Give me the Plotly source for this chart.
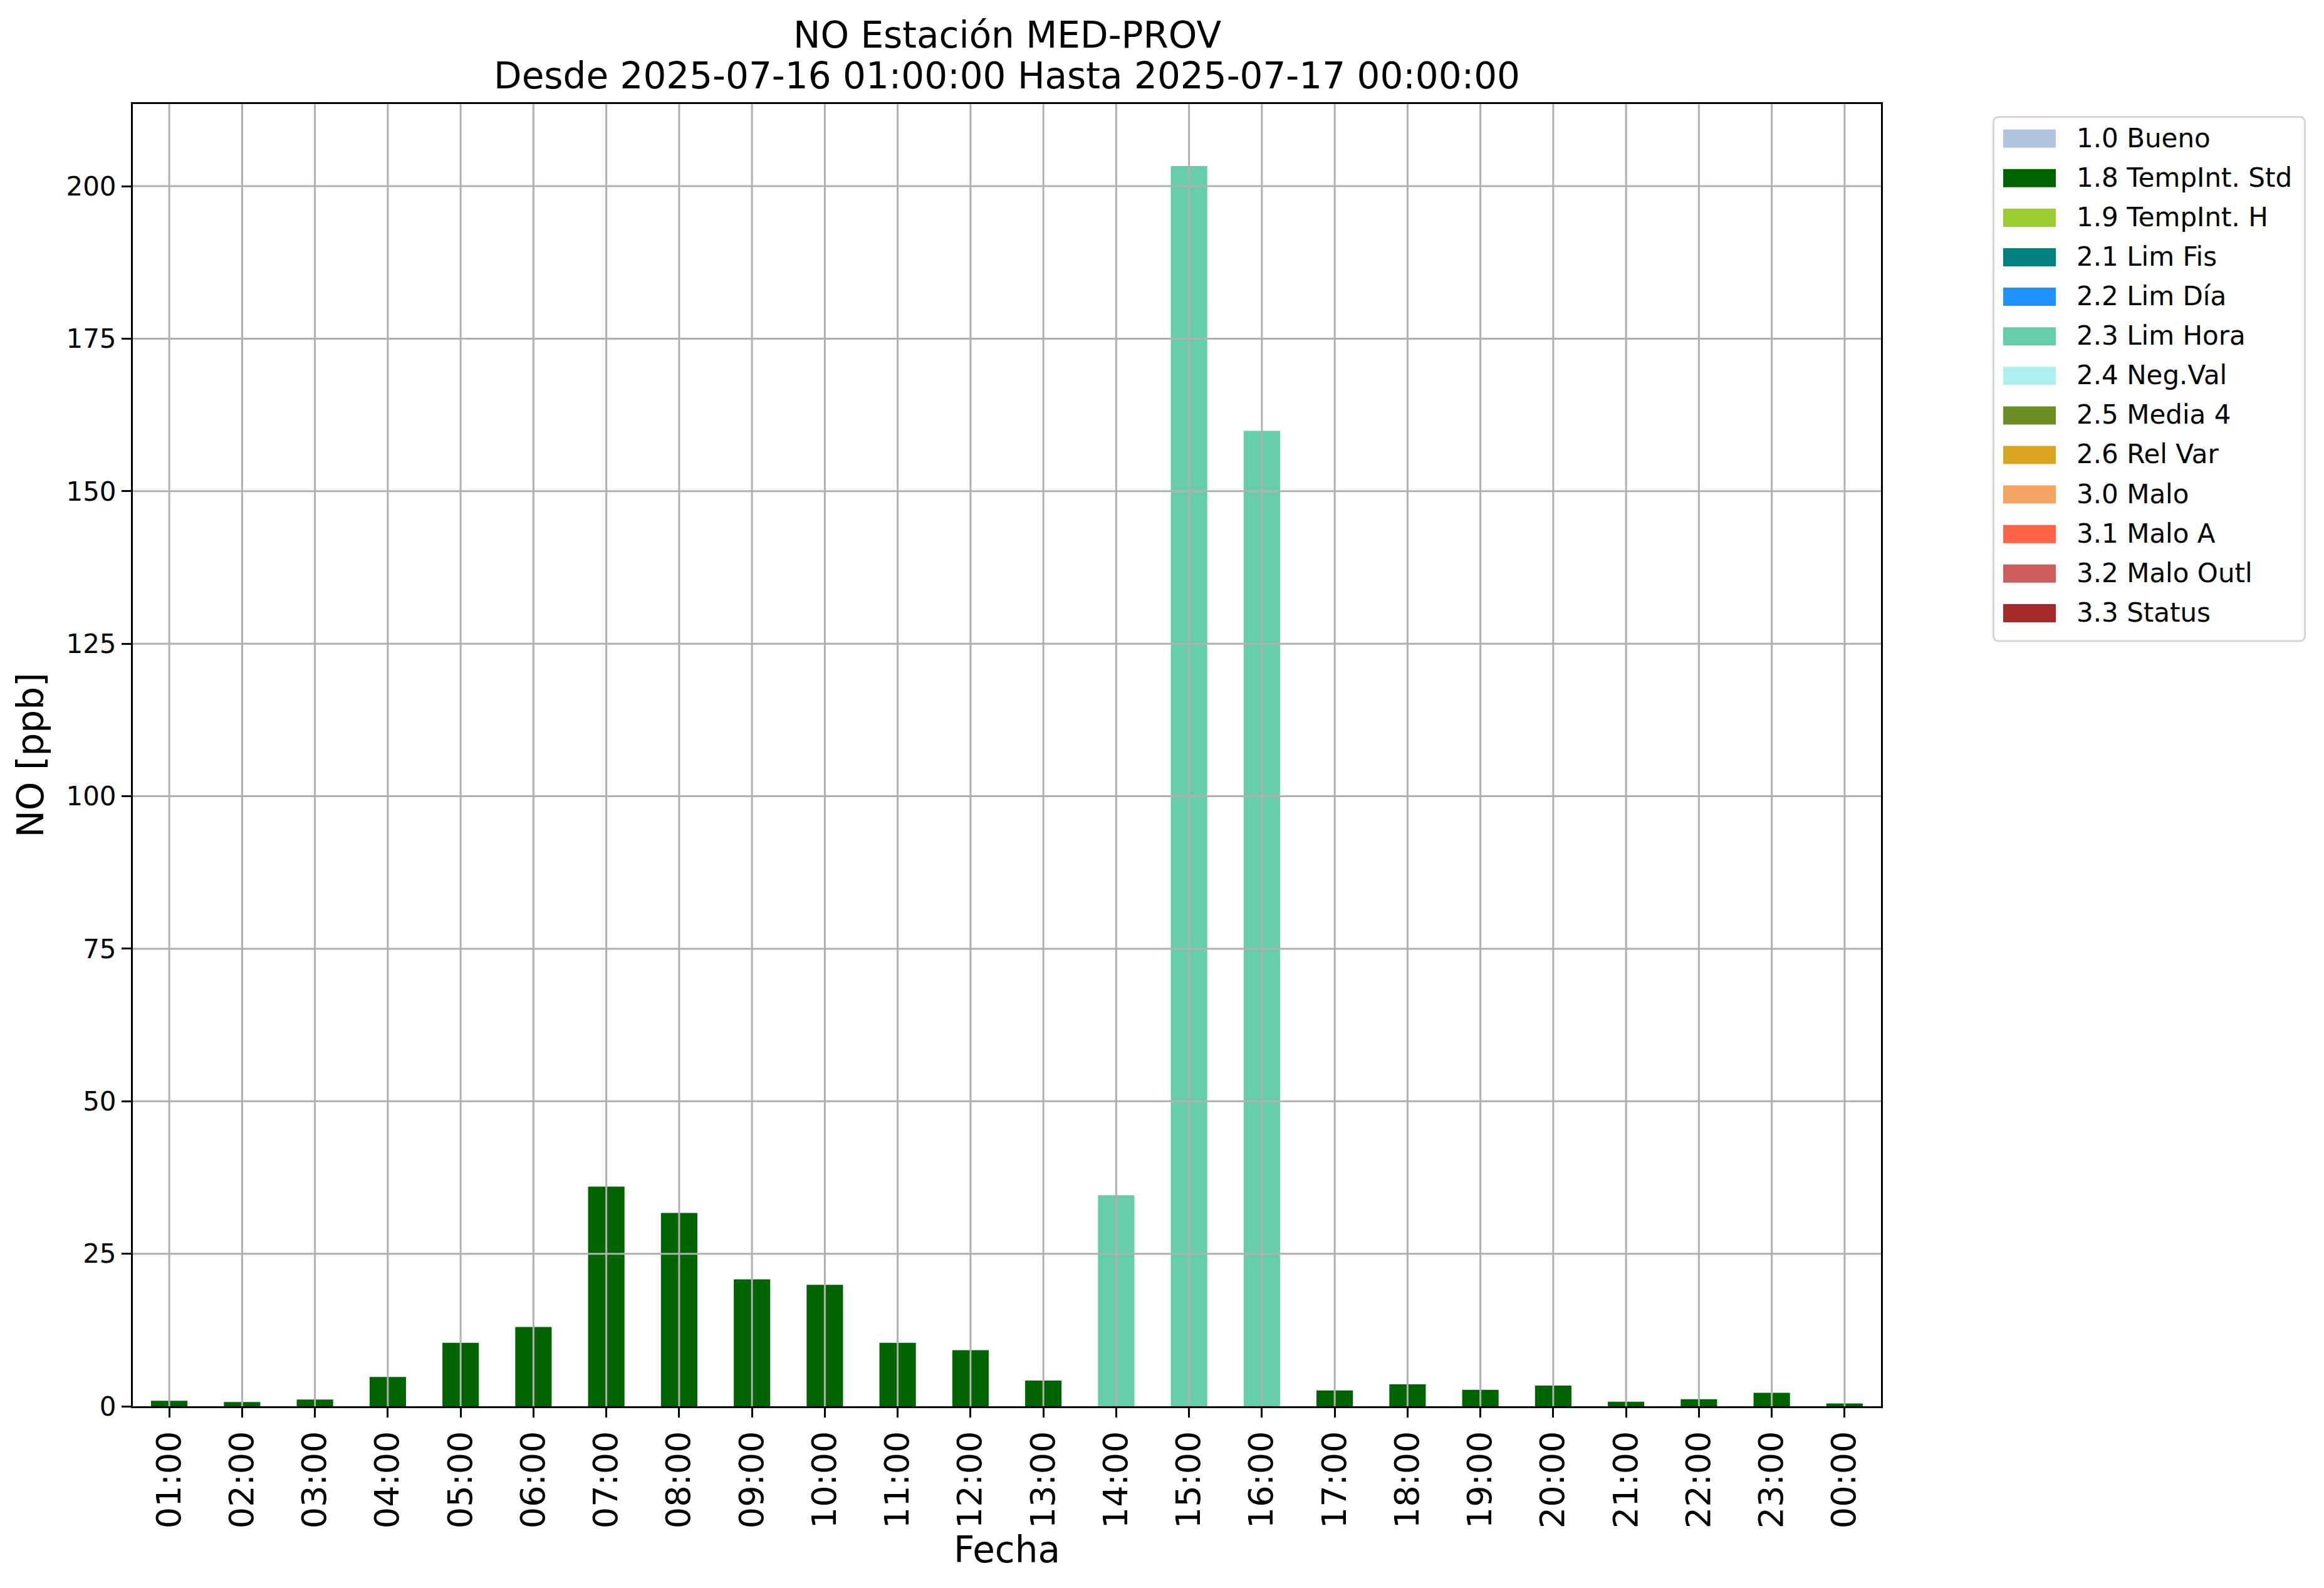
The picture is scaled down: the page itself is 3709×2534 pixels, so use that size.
import plotly.graph_objects as go

# ---------------- data ----------------
hours = ["01:00", "02:00", "03:00", "04:00", "05:00", "06:00", "07:00", "08:00",
         "09:00", "10:00", "11:00", "12:00", "13:00", "14:00", "15:00", "16:00",
         "17:00", "18:00", "19:00", "20:00", "21:00", "22:00", "23:00", "00:00"]
no_values = [0.9, 0.7, 1.1, 4.8, 10.4, 13.0, 36.0, 31.7,
             20.8, 19.9, 10.4, 9.2, 4.2, 34.6, 203.3, 159.9,
             2.6, 3.6, 2.7, 3.4, 0.75, 1.15, 2.2, 0.45]
flags = ["1.8", "1.8", "1.8", "1.8", "1.8", "1.8", "1.8", "1.8",
         "1.8", "1.8", "1.8", "1.8", "1.8", "2.3", "2.3", "2.3",
         "1.8", "1.8", "1.8", "1.8", "1.8", "1.8", "1.8", "1.8"]
flag_codes = ["1.0", "1.8", "1.9", "2.1", "2.2", "2.3", "2.4", "2.5",
              "2.6", "3.0", "3.1", "3.2", "3.3"]
flag_labels = ["1.0 Bueno", "1.8 TempInt. Std", "1.9 TempInt. H", "2.1 Lim Fis",
               "2.2 Lim Día", "2.3 Lim Hora", "2.4 Neg.Val", "2.5 Media 4",
               "2.6 Rel Var", "3.0 Malo", "3.1 Malo A", "3.2 Malo Outl", "3.3 Status"]
flag_colors = ["#B0C4DE", "#006400", "#9ACD32", "#008080", "#1E90FF", "#66CDAA",
               "#AFEEEE", "#6B8E23", "#DAA520", "#F4A460", "#FF6347", "#CD5C5C",
               "#A52A2A"]
y_ticks = [0, 25, 50, 75, 100, 125, 150, 175, 200]
title_lines = ["NO Estación MED-PROV",
               "Desde 2025-07-16 01:00:00 Hasta 2025-07-17 00:00:00"]

# ---------------- layout geometry (page pixels) ----------------
OFF = 8                      # default body margin of the html page
W, H = 3709 - 2 * OFF, 2534 - 2 * OFF
AX_L, AX_R, AX_T, AX_B = 212, 3002, 166, 2244   # axes frame in page pixels
L, T = AX_L - OFF, AX_T - OFF
R, B = W - (AX_R - OFF), H - (AX_B - OFF)
PW, PH = W - L - R, H - T - B
FONT = "DejaVu Sans"


def px_x(X):
    return (X - OFF - L) / PW


def px_y(Y):
    return 1 - (Y - OFF - T) / PH


fig = go.Figure()
for code, label, color in zip(flag_codes, flag_labels, flag_colors):
    ys = [v if f == code else None for v, f in zip(no_values, flags)]
    fig.add_trace(go.Bar(x=hours, y=ys, width=0.5,
                         marker=dict(color=color, line=dict(width=0)),
                         name=label, legendgroup=code))

ymax = max(no_values) * 1.05

shapes = []
# grid drawn above the bars, like the reference
for hcat in hours:
    shapes.append(dict(type="line", xref="x", yref="paper", x0=hcat, x1=hcat, y0=0, y1=1,
                       line=dict(color="#b0b0b0", width=3), layer="above"))
for yt in y_ticks[1:]:
    shapes.append(dict(type="line", xref="paper", yref="y", x0=0, x1=1, y0=yt, y1=yt,
                       line=dict(color="#b0b0b0", width=3), layer="above"))

# ---------------- legend (matplotlib-style box) ----------------
LB_L, LB_R, LB_T, LB_B, RAD = 3181.5, 3678.5, 186.5, 1023, 9
pts = [
    ("M", LB_L + RAD, LB_T),
    ("L", LB_R - RAD, LB_T), ("Q", LB_R, LB_T, LB_R, LB_T + RAD),
    ("L", LB_R, LB_B - RAD), ("Q", LB_R, LB_B, LB_R - RAD, LB_B),
    ("L", LB_L + RAD, LB_B), ("Q", LB_L, LB_B, LB_L, LB_B - RAD),
    ("L", LB_L, LB_T + RAD), ("Q", LB_L, LB_T, LB_L + RAD, LB_T),
]
path = ""
for p in pts:
    cmd, coords = p[0], p[1:]
    xy = []
    for i in range(0, len(coords), 2):
        xy.append(f"{px_x(coords[i]):.6f},{px_y(coords[i + 1]):.6f}")
    path += cmd + " ".join(xy) + " "
path += "Z"
shapes.append(dict(type="path", xref="paper", yref="paper", path=path,
                   fillcolor="white", line=dict(color="#d6d6d6", width=3), layer="above"))

SW_X0, SW_X1, SW_T, SW_H, PITCH, TX = 3197, 3281, 206.7, 29, 63.1, 3313
annotations = []
for i, (label, color) in enumerate(zip(flag_labels, flag_colors)):
    top = SW_T + i * PITCH
    shapes.append(dict(type="rect", xref="paper", yref="paper",
                       x0=px_x(SW_X0), x1=px_x(SW_X1), y0=px_y(top), y1=px_y(top + SW_H),
                       fillcolor=color, line=dict(width=0), layer="above"))
    annotations.append(dict(text=label, xref="paper", yref="paper",
                            x=px_x(TX), y=px_y(top + SW_H / 2 - 1),
                            xanchor="left", yanchor="middle", showarrow=False, borderpad=0,
                            font=dict(family=FONT, size=42, color="black")))

# ---------------- two-line title, centred over the axes ----------------
TITLE_CENTERS = [55, 120]
for txt, yc in zip(title_lines, TITLE_CENTERS):
    annotations.append(dict(text=txt, xref="paper", yref="paper", x=0.5, y=px_y(yc + 1),
                            xanchor="center", yanchor="middle", showarrow=False, borderpad=0,
                            font=dict(family=FONT, size=58, color="black")))

fig.update_layout(
    width=W, height=H,
    margin=dict(l=L, r=R, t=T, b=B, autoexpand=False),
    paper_bgcolor="white", plot_bgcolor="white",
    barmode="overlay",
    showlegend=False,
    font=dict(family=FONT, color="black"),
    shapes=shapes,
    annotations=annotations,
    xaxis=dict(type="category", categoryorder="array", categoryarray=hours,
               range=[-0.5, len(hours) - 0.5],
               showgrid=False, zeroline=False,
               showline=True, mirror=True, linecolor="black", linewidth=3,
               ticks="outside", ticklen=15, tickwidth=3, tickcolor="black",
               tickangle=-90, tickfont=dict(family=FONT, size=54),
               title=dict(text="Fecha", font=dict(family=FONT, size=58), standoff=12),
               layer="above traces"),
    yaxis=dict(range=[0, ymax], tickvals=y_ticks,
               showgrid=False, zeroline=False,
               showline=True, mirror=True, linecolor="black", linewidth=3,
               ticks="outside", ticklen=15, tickwidth=3, tickcolor="black",
               tickfont=dict(family=FONT, size=42),
               title=dict(text="NO [ppb]", font=dict(family=FONT, size=58), standoff=18),
               layer="above traces"),
)

fig.write_html("out.html")
